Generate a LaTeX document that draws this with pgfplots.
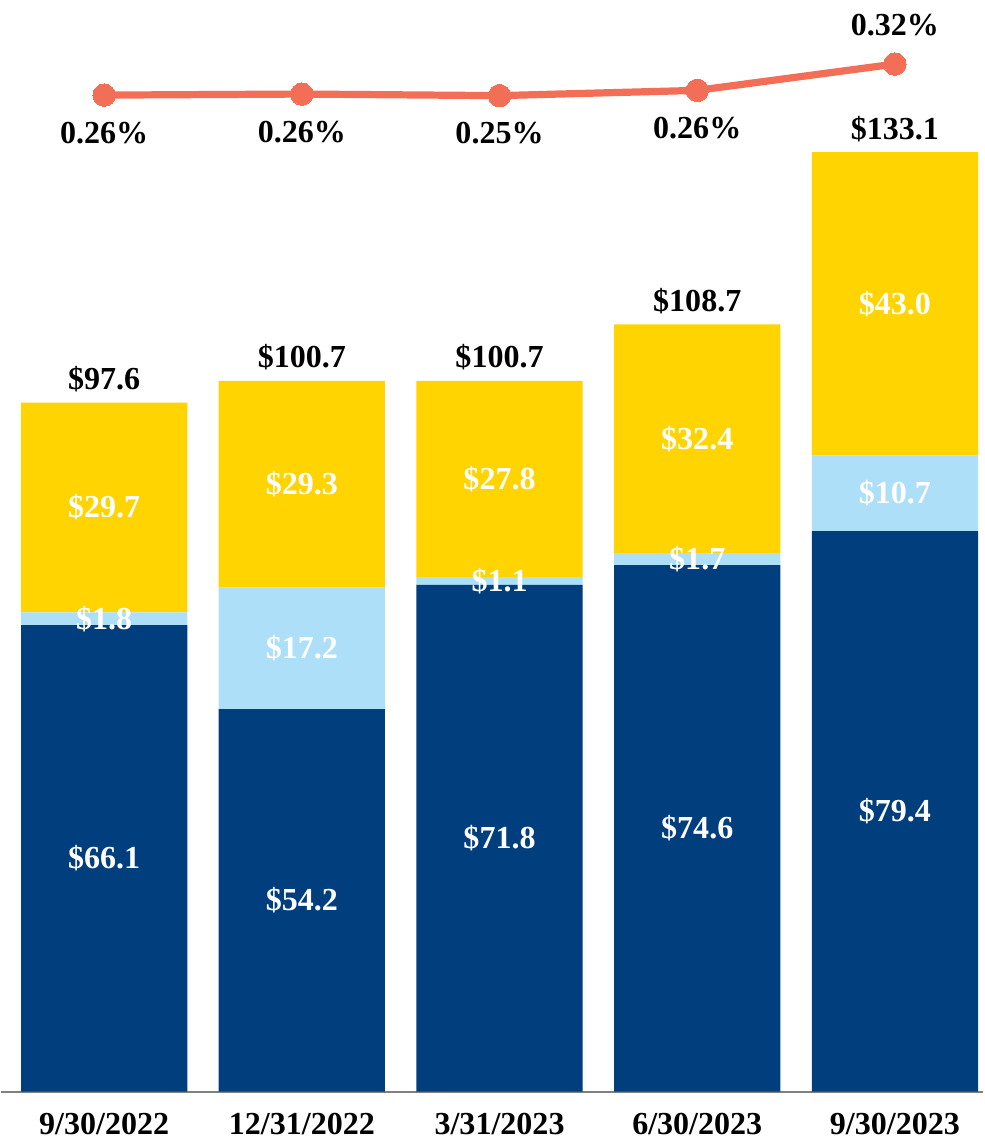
\documentclass[border=0pt]{standalone}
\usepackage{pgfplots}
\usepackage{pgfplotstable}
\pgfplotsset{compat=1.18}
\usepackage{fontspec}
\setmainfont{Liberation Serif}
\definecolor{navy}{HTML}{003E7E}
\definecolor{lblue}{HTML}{AEDFF9}
\definecolor{gold}{HTML}{FFD400}
\definecolor{coral}{HTML}{F36E57}
\pgfplotstableread{
x  a     b     c     tot
0  66.1  1.8   29.7  97.6
1  54.2  17.2  29.3  100.7
2  71.8  1.1   27.8  100.7
3  74.6  1.7   32.4  108.7
4  79.4  10.7  43.0  133.1
}\bars
\pgfplotstableread{
x  p      lab
0  0.259  0.26
1  0.261  0.26
2  0.258  0.25
3  0.268  0.26
}\pctlow
\pgfplotstableread{
x  p      lab
4  0.318  0.32
}\pcthigh
\pgfplotstableread{
x  p
0  0.259
1  0.261
2  0.258
3  0.268
4  0.318
}\pctline
\newcommand{\lf}{\fontsize{16}{19}\selectfont\bfseries}
\pgfplotsset{
  common/.style={
    scale only axis,
    width=490.5pt, height=545pt,
    xmin=-0.5218, xmax=4.4478,
    clip=false,
  },
  lbl/.style={draw=none, mark=none, point meta=explicit symbolic,
    nodes near coords={\$\pgfplotspointmeta},
    every node near coord/.append style={anchor=center, text=white, font=\lf}},
}
\begin{document}
\begin{tikzpicture}
\begin{axis}[
  common,
  ymin=0, ymax=154.65,
  ybar stacked,
  bar width=83pt,
  axis x line*=bottom,
  axis y line=none,
  axis line style={draw=black!50, line width=1pt, -},
  xtick={0,1,2,3,4},
  xticklabels={9/30/2022,12/31/2022,3/31/2023,6/30/2023,9/30/2023},
  major tick length=0pt,
  xticklabel style={font=\lf, anchor=base, yshift=-21.5pt, inner sep=2pt},
]
\path (rel axis cs:0,0) rectangle (rel axis cs:1,1);
\addplot[fill=navy, draw=none] table[x=x, y=a] {\bars};
\addplot[fill=lblue, draw=none] table[x=x, y=b] {\bars};
\addplot[fill=gold, draw=none] table[x=x, y=c] {\bars};
\end{axis}
\begin{axis}[
  common,
  ymin=0, ymax=154.65,
  hide axis,
]
\addplot[lbl] table[x=x, y expr=\thisrow{a}/2, meta=a] {\bars};
\addplot[lbl] table[x=x, y expr=\thisrow{a}+\thisrow{b}/2, meta=b] {\bars};
\addplot[lbl] table[x=x, y expr=\thisrow{a}+\thisrow{b}+\thisrow{c}/2, meta=c] {\bars};
\addplot[draw=none, mark=none, point meta=explicit symbolic,
  nodes near coords={\$\pgfplotspointmeta},
  every node near coord/.append style={anchor=base, yshift=6.5pt, text=black, font=\lf}]
  table[x=x, y=tot, meta=tot] {\bars};
\end{axis}
\begin{axis}[
  common,
  ymin=-1.6348, ymax=0.4398,
  hide axis,
]
\addplot[coral, line width=3.6pt, mark=*, mark size=5.6pt, mark options={fill=coral, draw=coral, line width=0pt}]
  table[x=x, y=p] {\pctline};
\addplot[draw=none, mark=none, point meta=explicit symbolic,
  nodes near coords={\pgfplotspointmeta\%},
  every node near coord/.append style={anchor=base, yshift=-24pt, text=black, font=\lf}]
  table[x=x, y=p, meta=lab] {\pctlow};
\addplot[draw=none, mark=none, point meta=explicit symbolic,
  nodes near coords={\pgfplotspointmeta\%},
  every node near coord/.append style={anchor=base, yshift=14.5pt, text=black, font=\lf}]
  table[x=x, y=p, meta=lab] {\pcthigh};
\end{axis}
\end{tikzpicture}
\end{document}
